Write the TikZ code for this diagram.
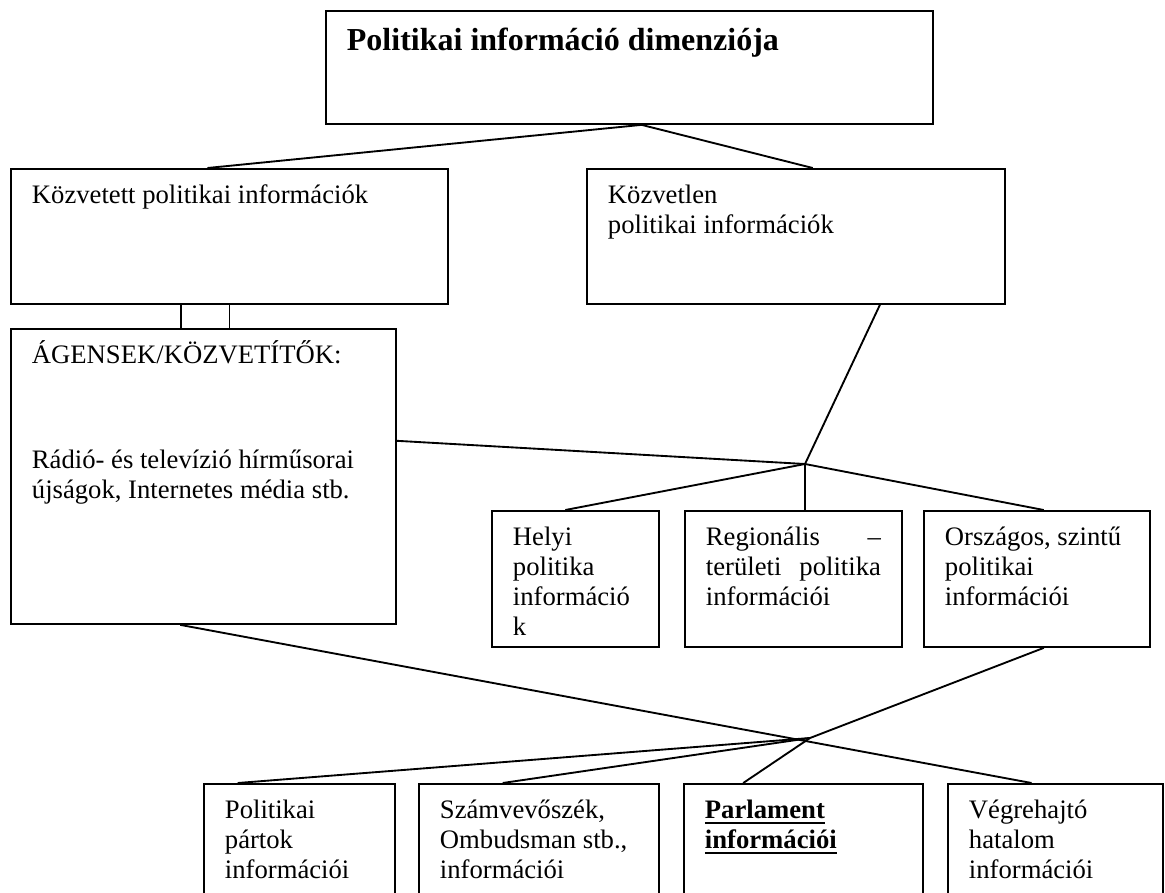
\documentclass[tikz,border=0pt]{standalone}
\usepackage{fontspec}
\setmainfont{Liberation Serif}
\usetikzlibrary{calc}

\newdimen\pxu \pxu=0.75pt
% box body: [first baseline]{width}{height}{text}, sizes in pixels
\newcommand{\boxbody}[4][35]{\parbox[c][#3\pxu][t]{\dimexpr#2\pxu-42\pxu\relax}{\fontsize{20}{22.5}\selectfont\rule{0pt}{#1\pxu}#4}}
% heavy underline
\newcommand{\thickul}[1]{\leavevmode\vtop{\hbox{#1}\kern1.8pt\hrule height 1.6pt}}

\tikzset{every picture/.style={line width=1.4pt}}
\tikzset{infobox/.style={draw, line width=1.4pt, anchor=north west, inner xsep=21\pxu, inner ysep=0pt},
         link/.style={line width=1.4pt}}

\begin{document}
\begin{tikzpicture}[x=0.75pt,y=0.75pt,yscale=-1,xscale=1]
	\useasboundingbox (0,0) rectangle (1165,893);
	\clip (0,0) rectangle (1165,893);

	%Shape: Rectangle [dim]
	\node[infobox] (dim) at (325,10) {\boxbody[40]{607}{113}{\bfseries\fontsize{24}{28}\selectfont Politikai információ dimenziója}};
	%Shape: Rectangle [kozvetett]
	\node[infobox] (kozvetett) at (10,168) {\boxbody{437}{135}{Közvetett politikai információk}};
	%Shape: Rectangle [kozvetlen]
	\node[infobox] (kozvetlen) at (586,168) {\boxbody{418}{135}{Közvetlen\\politikai információk}};
	%Shape: Rectangle [agensek]
	\node[infobox] (agensek) at (10,328) {\boxbody{385}{295}{ÁGENSEK/KÖZVETÍTŐK:\\[75\pxu]Rádió- és televízió hírműsorai\\újságok, Internetes média stb.}};

	%Shape: Rectangle [helyi]
	\node[infobox] (helyi) at (491,510) {\boxbody{167}{136}{Helyi\\politika\\információ\\k}};
	%Shape: Rectangle [regionalis]
	\node[infobox] (regionalis) at (684,510) {\boxbody{217}{136}{Regionális\hfill –\\területi\hfill politika\\információi}};
	%Shape: Rectangle [orszagos]
	\node[infobox] (orszagos) at (923,510) {\boxbody{226}{136}{Országos, szintű\\politikai\\információi}};

	%Shape: Rectangle [partok]
	\node[infobox] (partok) at (203,783) {\boxbody{191}{130}{Politikai\\pártok\\információi}};
	%Shape: Rectangle [szamvevo]
	\node[infobox] (szamvevo) at (418,783) {\boxbody{240}{130}{Számvevőszék,\\Ombudsman stb.,\\információi}};
	%Shape: Rectangle [parlament]
	\node[infobox] (parlament) at (683,783) {\boxbody{239}{130}{\bfseries\thickul{Parlament}\\\thickul{információi}}};
	%Shape: Rectangle [vegrehajto]
	\node[infobox] (vegrehajto) at (947,783) {\boxbody{215}{130}{Végrehajtó\\hatalom\\információi}};

	%Junctions
	\coordinate (j1) at (805,464);
	\coordinate (j2) at (810,738);

	%Straight Lines [dim -> kozvetett, kozvetlen]
	\draw[link] ($(kozvetett.north west)!0.45!(kozvetett.north east)$) -- ($(dim.south west)!0.52!(dim.south east)$) -- ($(kozvetlen.north west)!0.54!(kozvetlen.north east)$);
	%Straight Lines [kozvetett -> agensek]
	\foreach \t in {0.39,0.5}
		\draw[link] ($(kozvetett.south west)!\t!(kozvetett.south east)$) coordinate (p) -- (p |- agensek.north);
	%Straight Lines [to j1]
	\draw[link] ($(kozvetlen.south west)!0.70!(kozvetlen.south east)$) -- (j1);
	\draw[link] ($(agensek.north east)!0.38!(agensek.south east)$) -- (j1);
	\draw[link] ($(helyi.north west)!0.44!(helyi.north east)$) -- (j1) -- ($(orszagos.north west)!0.53!(orszagos.north east)$);
	\draw[link] (j1) -- (j1 |- regionalis.north);
	%Straight Lines [to j2]
	\draw[link] ($(orszagos.south west)!0.53!(orszagos.south east)$) -- (j2);
	\draw[link] (j2) -- ($(partok.north west)!0.18!(partok.north east)$);
	\draw[link] (j2) -- ($(szamvevo.north west)!0.35!(szamvevo.north east)$);
	\draw[link] (j2) -- ($(parlament.north west)!0.25!(parlament.north east)$);
	%Straight Lines [agensek -> vegrehajto]
	\draw[link] ($(agensek.south west)!0.44!(agensek.south east)$) -- ($(vegrehajto.north west)!0.39!(vegrehajto.north east)$);
\end{tikzpicture}
\end{document}
